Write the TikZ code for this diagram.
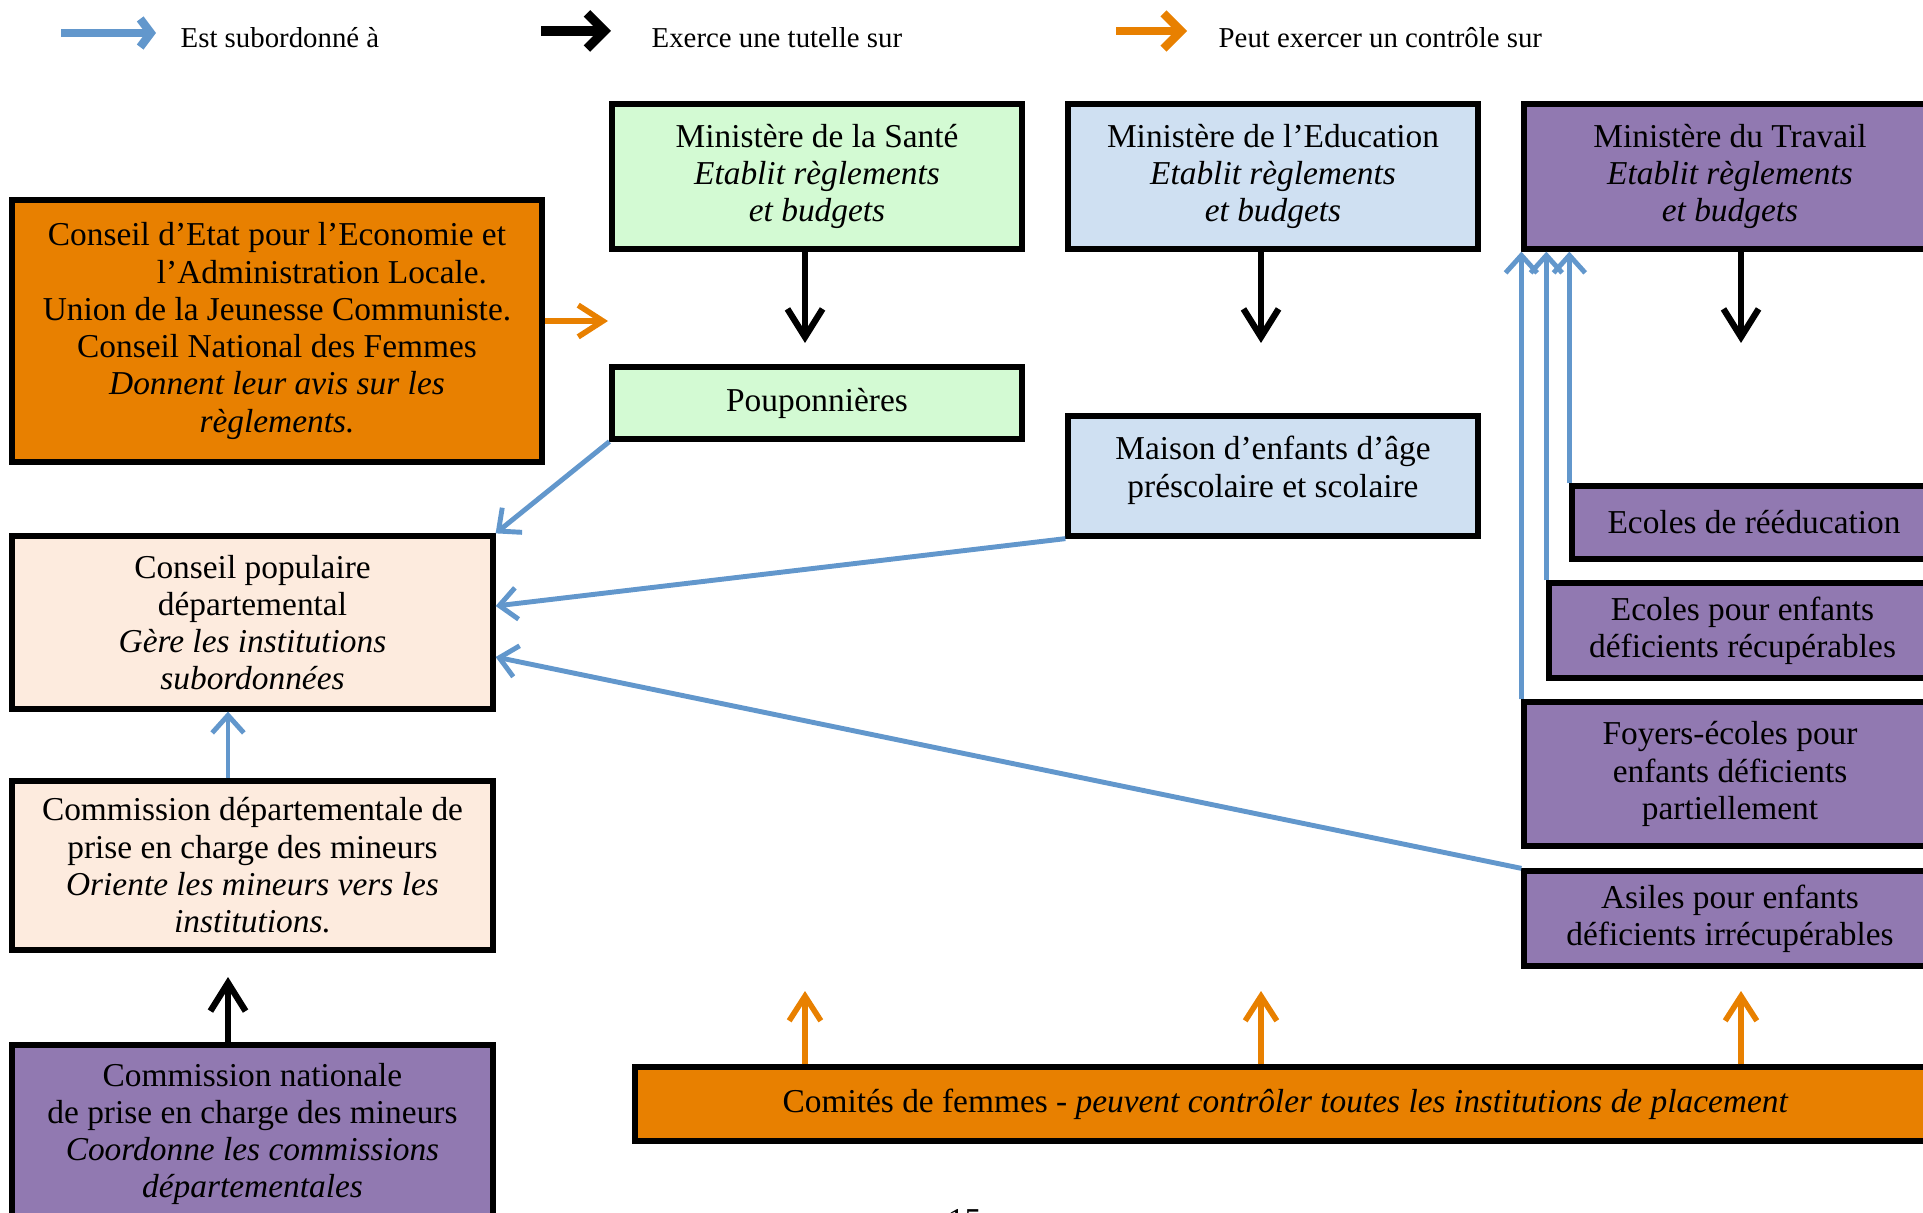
\documentclass[tikz,border=0pt]{standalone}
\usepackage{fontspec}
\setmainfont{Liberation Serif}
\usetikzlibrary{arrows.meta,positioning,calc}
\definecolor{santeVert}   {RGB}{211, 250, 211}
\definecolor{educBleu}    {RGB}{207, 224, 242}
\definecolor{travViolet}  {RGB}{145, 121, 177}
\definecolor{femOrange}   {RGB}{232, 128,   0}
\definecolor{conseilPeche}{RGB}{253, 235, 222}
\definecolor{flecheBleu}  {RGB}{ 98, 151, 204}

\begin{document}
\begin{tikzpicture}[
    boite/.style={draw=black,line width=1.5pt,align=center,inner sep=2pt,
                  font=\fontsize{9.5}{10.6}\selectfont},
    subord/.style={-{Straight Barb[length=5pt,width=9pt]},flecheBleu,line width=1.4pt},
    tutelle/.style={-{Straight Barb[length=8pt,width=10pt]},black,line width=1.8pt},
    controle/.style={-{Straight Barb[length=7pt,width=9pt]},femOrange,line width=1.6pt},
    legende/.style={font=\fontsize{8.2}{10}\selectfont,anchor=west,inner sep=0pt}]

    \useasboundingbox (0,0) rectangle (19.23,12.12);
    \clip (0,0) rectangle (19.23,12.12);

    % ── LEGENDE ───────────────────────────────────────────
    \coordinate (lgA1) at (0.61,11.79);  \coordinate (lgA2) at (1.56,11.79);
    \coordinate (lgB1) at (5.41,11.81);  \coordinate (lgB2) at (6.11,11.81);
    \coordinate (lgC1) at (11.16,11.81); \coordinate (lgC2) at (11.87,11.81);
    \draw[subord,line width=2.4pt,-{Straight Barb[length=3pt,width=8pt]}] (lgA1) -- (lgA2);
    \draw[tutelle,line width=2.6pt,-{Straight Barb[length=5pt,width=10pt]}] (lgB1) -- (lgB2);
    \draw[controle,line width=2.4pt,-{Straight Barb[length=5pt,width=10pt]}] (lgC1) -- (lgC2);
    \node[legende] (lgT1) at (1.80,11.74) {Est subordonné à};
    \node[legende] (lgT2) at (6.51,11.74) {Exerce une tutelle sur};
    \node[legende] (lgT3) at (12.18,11.74) {Peut exercer un contrôle sur};

    % ── MINISTERES ────────────────────────────────────────
    \node[boite,fill=santeVert,minimum width=4.10cm,minimum height=1.45cm]
         (sante) at (8.17,10.355)
         {Ministère de la Santé\\\textit{Etablit règlements}\\\textit{et budgets}};
    \node[boite,fill=educBleu,minimum width=4.10cm,minimum height=1.45cm]
         (educ) at (12.73,10.355)
         {Ministère de l’Education\\\textit{Etablit règlements}\\\textit{et budgets}};
    \node[boite,fill=travViolet,minimum width=4.12cm,minimum height=1.45cm]
         (trav) at (17.30,10.355)
         {Ministère du Travail\\\textit{Etablit règlements}\\\textit{et budgets}};

    % ── CONSEILS ET COMMISSIONS ───────────────────────────
    \node[boite,fill=femOrange,minimum width=5.30cm,minimum height=2.62cm]
         (etat) at (2.77,8.81)
         {Conseil d’Etat pour l’Economie et\\\hspace*{0.9cm}l’Administration Locale.\\
          Union de la Jeunesse Communiste.\\Conseil National des Femmes\\
          \textit{Donnent leur avis sur les}\\\textit{règlements.}};
    \node[boite,fill=conseilPeche,minimum width=4.81cm,minimum height=1.73cm]
         (popul) at (2.525,5.895)
         {Conseil populaire\\départemental\\\textit{Gère les institutions}\\\textit{subordonnées}};
    \node[boite,fill=conseilPeche,minimum width=4.81cm,minimum height=1.69cm]
         (cdept) at (2.525,3.465)
         {Commission départementale de\\prise en charge des mineurs\\
          \textit{Oriente les mineurs vers les}\\\textit{institutions.}};
    \node[boite,fill=travViolet,minimum width=4.81cm,minimum height=1.78cm]
         (cnat) at (2.525,0.78)
         {Commission nationale\\de prise en charge des mineurs\\
          \textit{Coordonne les commissions}\\\textit{départementales}};

    % ── INSTITUTIONS ──────────────────────────────────────
    \node[boite,fill=santeVert,minimum width=4.10cm,minimum height=0.72cm]
         (poup) at (8.17,8.09) {Pouponnières};
    \node[boite,fill=educBleu,minimum width=4.10cm,minimum height=1.20cm]
         (maison) at (12.73,7.36)
         {Maison d’enfants d’âge\\préscolaire et scolaire\\[-0.19cm]\mbox{}};
    \node[boite,fill=travViolet,minimum width=3.64cm,minimum height=0.73cm]
         (reedu) at (17.54,6.895) {Ecoles de rééducation};
    \node[boite,fill=travViolet,minimum width=3.87cm,minimum height=0.95cm]
         (ecoles) at (17.425,5.815) {Ecoles pour enfants\\déficients récupérables};
    \node[boite,fill=travViolet,minimum width=4.12cm,minimum height=1.44cm]
         (foyers) at (17.30,4.38) {Foyers-écoles pour\\enfants déficients\\partiellement};
    \node[boite,fill=travViolet,minimum width=4.12cm,minimum height=0.95cm]
         (asiles) at (17.30,2.935) {Asiles pour enfants\\déficients irrécupérables};
    \node[boite,fill=femOrange,minimum width=13.01cm,minimum height=0.74cm]
         (comites) at (12.855,1.08)
         {Comités de femmes - \textit{peuvent contrôler toutes les institutions de placement}};

    % Numero de page (coupe)
    \node[font=\fontsize{9.5}{10}\selectfont,anchor=base,inner sep=0pt]
         (page) at (9.645,-0.19) {15};

    % ── FLECHES : TUTELLE ─────────────────────────────────
    \coordinate (santeFin) at (8.05,8.69);
    \coordinate (educFin)  at (12.61,8.69);
    \coordinate (travFin)  at (17.41,8.69);
    \coordinate (cnatFin)  at (2.28,2.35);
    \draw[tutelle] (sante.south -| santeFin) -- (santeFin);
    \draw[tutelle] (educ.south -| educFin) -- (educFin);
    \draw[tutelle] (trav.south -| travFin) -- (travFin);
    \draw[tutelle] (cnat.north -| cnatFin) -- (cnatFin);

    % ── FLECHES : SUBORDINATION ───────────────────────────
    \draw[subord] (poup.south west) -- (popul.north east);
    \draw[subord] (maison.south west) -- ($(popul.east)+(0,0.165)$);
    \draw[subord] (asiles.north west) -- ($(popul.east)+(0,-0.345)$);
    \coordinate (cdeptHaut) at (2.28,0);
    \draw[subord] (cdept.north -| cdeptHaut) -- (popul.south -| cdeptHaut);
    \foreach \inst in {foyers,ecoles,reedu}{
      \draw[subord] (\inst.north west) -- (\inst.north west |- trav.south);
    }

    % ── FLECHES : CONTROLE ────────────────────────────────
    \coordinate (etatFin) at (6.08,8.91);
    \draw[controle] (etat.east |- etatFin) -- (etatFin);
    \foreach \fin/\x in {santeCtl/8.05,educCtl/12.61,travCtl/17.41}{
      \coordinate (\fin) at (\x,2.21);
      \draw[controle] (comites.north -| \fin) -- (\fin);
    }

\end{tikzpicture}
\end{document}
